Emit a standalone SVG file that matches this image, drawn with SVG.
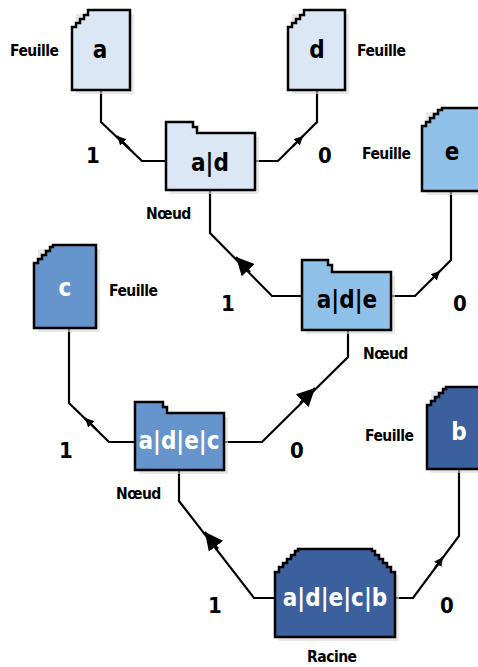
<svg xmlns="http://www.w3.org/2000/svg" width="478" height="667" viewBox="0 0 478 667">
<style>
.box{stroke:#000;stroke-width:2.5;stroke-linejoin:miter}
.shadow{fill:#d8d8d8;opacity:0.6}
.l1{fill:#dbe7f4}.l2{fill:#8fc0e8}.l3{fill:#6695cd}.l4{fill:#3c5f9e}
.conn{fill:none;stroke:#000;stroke-width:2.2}
.lbl{font-family:"DejaVu Sans Condensed","DejaVu Sans",sans-serif;font-weight:bold;font-size:15.5px;fill:#000;letter-spacing:-0.5px}
.num{font-family:"DejaVu Sans Condensed","DejaVu Sans",sans-serif;font-weight:bold;font-size:22px;fill:#000;text-anchor:middle}
.nt{font-family:"DejaVu Sans Condensed","DejaVu Sans",sans-serif;font-weight:bold;font-size:24px;text-anchor:middle}
.dark{fill:#000}.light{fill:#fff}
</style>
<defs>
<marker id="as" viewBox="0 0 10 10" refX="10" refY="5" markerWidth="9" markerHeight="9" markerUnits="userSpaceOnUse" orient="auto"><path d="M0,0 L10,5 L0,10 Z" fill="#000"/></marker>
<marker id="al" viewBox="0 0 10 10" refX="10" refY="5" markerWidth="18" markerHeight="18" markerUnits="userSpaceOnUse" orient="auto"><path d="M0,0 L10,5 L0,10 Z" fill="#000"/></marker>
</defs>

<g id="connectors">
<polyline class="conn" points="101,90 101,122 142,161 166,161"/>
<line class="conn" x1="130" y1="149" x2="117" y2="136" marker-end="url(#as)"/>
<polyline class="conn" points="255,161 278,161 317,122 317,90"/>
<line class="conn" x1="293" y1="146" x2="303" y2="136" marker-end="url(#as)"/>
<polyline class="conn" points="210,190 210,233 272,296 302,296"/>
<line class="conn" x1="250" y1="272" x2="236" y2="257" marker-end="url(#al)"/>
<polyline class="conn" points="391,296 415,296 451,260 451,191"/>
<line class="conn" x1="430" y1="281" x2="440" y2="271" marker-end="url(#as)"/>
<polyline class="conn" points="69,328 69,403 109,442 135,442"/>
<line class="conn" x1="97" y1="430" x2="85" y2="418" marker-end="url(#as)"/>
<polyline class="conn" points="224,442 262,442 348,357 348,330"/>
<line class="conn" x1="300" y1="403" x2="315" y2="388" marker-end="url(#al)"/>
<polyline class="conn" points="276,598 254,598 179,501 179,470"/>
<line class="conn" x1="218" y1="549" x2="205" y2="532" marker-end="url(#al)"/>
<polyline class="conn" points="395,598 413,598 459,536 459,469"/>
<line class="conn" x1="435" y1="568" x2="443" y2="557" marker-end="url(#as)"/>
</g>

<g id="leaf-a">
<rect class="shadow" x="76" y="14" width="58" height="80"/>
<path class="box l1" d="M72,90 V27 H76 V23 H80 V19 H84 V15 H88 V10 H130 V90 Z"/>
<text class="nt dark" x="100" y="58">a</text>
<text class="lbl" x="10" y="56">Feuille</text>
</g>

<g id="leaf-d">
<rect class="shadow" x="292" y="14" width="57" height="80"/>
<path class="box l1" d="M288,90 V27 H292 V23 H296 V19 H300 V15 H304 V10 H345 V90 Z"/>
<text class="nt dark" x="317" y="58">d</text>
<text class="lbl" x="357" y="56">Feuille</text>
</g>

<g id="node-ad">
<rect class="shadow" x="170" y="137" width="89" height="57"/>
<path class="box l1" d="M166,190 V122 H193 V127 H197 V133 H255 V190 Z"/>
<text class="nt dark" x="210" y="171">a|d</text>
<text class="lbl" x="146" y="219">Nœud</text>
<text class="num" x="93" y="163">1</text>
<text class="num" x="325" y="163">0</text>
</g>

<g id="leaf-e">
<rect class="shadow" x="426" y="112" width="56" height="83"/>
<path class="box l2" d="M422,191 V126 H426 V122 H430 V118 H434 V114 H438 V110 H442 V108 H480 V191 Z"/>
<text class="nt dark" x="452" y="160">e</text>
<text class="lbl" x="362" y="159">Feuille</text>
</g>

<g id="node-ade">
<rect class="shadow" x="306" y="276" width="89" height="58"/>
<path class="box l2" d="M302,330 V260 H328 V265 H332 V272 H391 V330 Z"/>
<text class="nt dark" x="347" y="308">a|d|e</text>
<text class="lbl" x="363" y="359">Nœud</text>
<text class="num" x="228" y="311">1</text>
<text class="num" x="460" y="311">0</text>
</g>

<g id="leaf-c">
<rect class="shadow" x="38" y="249" width="62" height="83"/>
<path class="box l3" d="M34,328 V263 H38 V259 H42 V255 H46 V251 H50 V247 H53 V245 H96 V328 Z"/>
<text class="nt light" x="65" y="296">c</text>
<text class="lbl" x="109" y="296">Feuille</text>
</g>

<g id="node-adec">
<rect class="shadow" x="139" y="417" width="89" height="57"/>
<path class="box l3" d="M135,470 V402 H163 V407 H167 V413 H224 V470 Z"/>
<text class="nt light" x="179" y="449">a|d|e|c</text>
<text class="lbl" x="116" y="499">Nœud</text>
<text class="num" x="66" y="458">1</text>
<text class="num" x="297" y="458">0</text>
</g>

<g id="leaf-b">
<rect class="shadow" x="431" y="391" width="52" height="82"/>
<path class="box l4" d="M427,469 V405 H431 V401 H435 V397 H439 V393 H443 V389 H446 V387 H480 V469 Z"/>
<text class="nt light" x="459" y="440">b</text>
<text class="lbl" x="365" y="441">Feuille</text>
</g>

<g id="root">
<rect class="shadow" x="279" y="575" width="120" height="66"/>
<path class="box l4" d="M275,637 V572 H279 V567 H283 V563 H287 V559 H291 V555 H295 V551 H298 V549 H372 V551 H375 V555 H379 V559 H383 V563 H387 V567 H391 V572 H395 V637 Z"/>
<text class="nt light" x="335" y="606">a|d|e|c|b</text>
<text class="lbl" x="307" y="662">Racine</text>
<text class="num" x="215" y="613">1</text>
<text class="num" x="447" y="613">0</text>
</g>
</svg>
